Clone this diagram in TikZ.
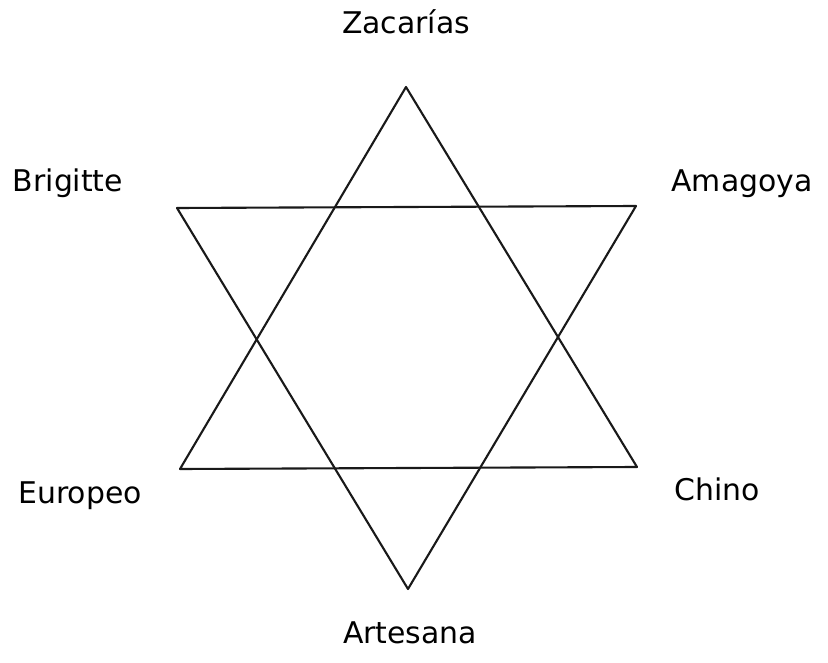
\documentclass[tikz,border=0pt]{standalone}
\usepackage{fontspec}
\setmainfont{DejaVu Sans}
\usepackage{tkz-euclide}
\definecolor{StarClr}{rgb}{0.1,0.1,0.1}

\begin{document}
\begin{tikzpicture}[lbl/.style={anchor=base,font=\fontsize{17}{20}\selectfont}]
\useasboundingbox (0,0) rectangle (16.56,13.24);

\tkzDefPoints{8.12/11.50/Z,3.54/9.08/B,12.72/9.12/A,3.60/3.86/E,12.74/3.90/C,8.16/1.46/R}

\tkzDrawPolygon[line width=1.2pt,color=StarClr](Z,E,C)
\tkzDrawPolygon[line width=1.2pt,color=StarClr](R,B,A)

\node (zacarias) [lbl] at (8.12,12.56) {Zacarías};
\node (brigitte) [lbl] at (1.36,9.40) {Brigitte};
\node (amagoya) [lbl] at (14.84,9.40) {Amagoya};
\node (europeo) [lbl] at (1.60,3.18) {Europeo};
\node (chino) [lbl] at (14.34,3.22) {Chino};
\node (artesana) [lbl] at (8.20,0.38) {Artesana};

\end{tikzpicture}
\end{document}
